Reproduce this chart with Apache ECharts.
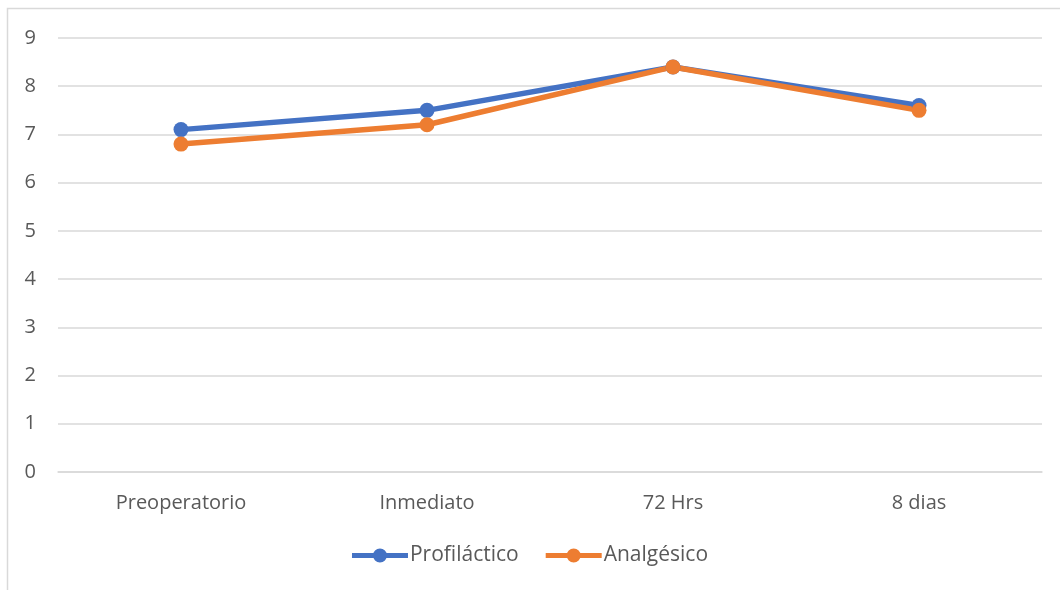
<!DOCTYPE html>
<html>
<head>
<meta charset="utf-8">
<script src="https://cdn.jsdelivr.net/npm/echarts@6/dist/echarts.min.js"></script>
<style>
  html, body { margin: 0; padding: 0; background: #ffffff; }
  #chart { width: 1060px; height: 590px; }
</style>
</head>
<body>
<div id="chart"></div>
<script>
// Time points and scores per group
const categories = ['Preoperatorio', 'Inmediato', '72 Hrs', '8 dias'];
const profilactico = [7.1, 7.5, 8.4, 7.6];
const analgesico = [6.8, 7.2, 8.4, 7.5];
const seriesNames = ['Profiláctico', 'Analgésico'];

const FONT = '"Open Sans", sans-serif';
const TEXT_COLOR = '#595959';
const FONT_SIZE = 20;

const chart = echarts.init(document.getElementById('chart'), null, { renderer: 'canvas' });

function lineSeries(name, data, color) {
  return {
    name: name,
    type: 'line',
    data: data,
    symbol: 'circle',
    symbolSize: 15,
    lineStyle: { width: 5.5, color: color },
    itemStyle: { color: color },
    emphasis: { disabled: true },
    animation: false
  };
}

// legend glyph: a short thick line with a marker dot in the middle
const legendIcon = 'path://M0,4.5 L56,4.5 L56,9.5 L0,9.5 Z M21,7 A7,7 0 1,1 35,7 A7,7 0 1,1 21,7 Z';

chart.setOption({
  animation: false,
  graphic: [{
    type: 'rect',
    shape: { x: 7.5, y: 8.5, width: 1070, height: 600 },
    style: { fill: null, stroke: '#d9d9d9', lineWidth: 1.5 },
    silent: true,
    z: -1
  }],
  grid: { left: 58, right: 18, top: 38, bottom: 118, containLabel: false },
  legend: {
    bottom: 19,
    left: 'center',
    itemWidth: 56,
    itemHeight: 14,
    itemGap: 27,
    icon: legendIcon,
    textStyle: { fontFamily: FONT, fontSize: 21, color: TEXT_COLOR, padding: [0, 0, 0, -3] },
    data: seriesNames
  },
  xAxis: {
    type: 'category',
    data: categories,
    boundaryGap: true,
    axisLine: { show: true, lineStyle: { color: '#d9d9d9', width: 1.5 } },
    axisTick: { show: false },
    axisLabel: { fontFamily: FONT, fontSize: FONT_SIZE, color: TEXT_COLOR, margin: 21 }
  },
  yAxis: {
    type: 'value',
    min: 0,
    max: 9,
    interval: 1,
    axisLine: { show: false },
    axisTick: { show: false },
    splitLine: { lineStyle: { color: '#d9d9d9', width: 1.5 } },
    axisLabel: { fontFamily: FONT, fontSize: FONT_SIZE, color: TEXT_COLOR, margin: 22 }
  },
  series: [
    lineSeries(seriesNames[0], profilactico, '#4472C4'),
    lineSeries(seriesNames[1], analgesico, '#ED7D31')
  ]
});
</script>
</body>
</html>
